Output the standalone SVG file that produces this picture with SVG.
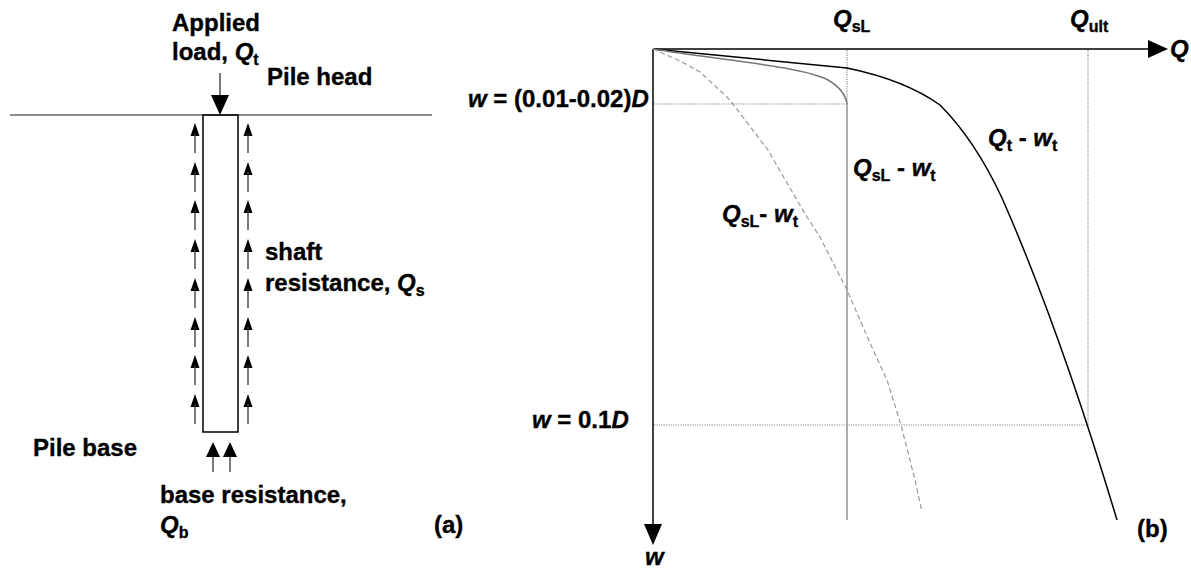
<svg xmlns="http://www.w3.org/2000/svg" width="1191" height="570" viewBox="0 0 1191 570">
<style>
text{font-family:"Liberation Sans",Arial,sans-serif;font-weight:bold;font-size:24px;fill:#000;stroke:#000;stroke-width:0.35}
.it{font-style:italic}
.sub{font-size:16px;font-style:normal}
.ax{stroke:#000;stroke-width:1.5;fill:none}
.dot{stroke:#888;stroke-width:1.2;stroke-dasharray:1.2 1.2;fill:none}
.sa{stroke:#333;stroke-width:1.3}
.hd{fill:#000}
</style>
<defs>
<g id="sarrow"><path class="hd" d="M0,0 L4.5,13 L-4.5,13 Z"/><line class="sa" x1="0" y1="10" x2="0" y2="30"/></g>
</defs>
<rect width="1191" height="570" fill="#fff"/>
<g id="ground"><line x1="10" y1="115" x2="432" y2="115" stroke="#666" stroke-width="1.5"/></g>
<g id="pile"><rect x="203" y="115" width="35" height="317" fill="none" stroke="#000" stroke-width="1.5"/></g>
<g id="connectors">
<line class="sa" x1="220" y1="73" x2="220" y2="96"/>
<path class="hd" d="M211,95 L229,95 L220,115 Z"/>
<use href="#sarrow" x="195" y="123"/><use href="#sarrow" x="195" y="162"/><use href="#sarrow" x="195" y="200"/><use href="#sarrow" x="195" y="239"/><use href="#sarrow" x="195" y="278"/><use href="#sarrow" x="195" y="317"/><use href="#sarrow" x="195" y="355"/><use href="#sarrow" x="195" y="394"/>
<use href="#sarrow" x="248" y="123"/><use href="#sarrow" x="248" y="162"/><use href="#sarrow" x="248" y="200"/><use href="#sarrow" x="248" y="239"/><use href="#sarrow" x="248" y="278"/><use href="#sarrow" x="248" y="317"/><use href="#sarrow" x="248" y="355"/><use href="#sarrow" x="248" y="394"/>
<line class="sa" x1="213" y1="455" x2="213" y2="472"/><path class="hd" d="M213,442 L220,457 L206,457 Z"/>
<line class="sa" x1="230" y1="455" x2="230" y2="472"/><path class="hd" d="M230,442 L237,457 L223,457 Z"/>
</g>
<g id="labels-a">
<text x="172" y="31">Applied</text>
<text x="172" y="60">load, <tspan class="it">Q</tspan><tspan class="sub" dy="5">t</tspan></text>
<text x="267" y="85">Pile head</text>
<text x="265" y="260">shaft</text>
<text x="265" y="291">resistance, <tspan class="it">Q</tspan><tspan class="sub" dy="5">s</tspan></text>
<text x="33" y="456">Pile base</text>
<text x="160" y="503">base resistance,</text>
<text x="160" y="533"><tspan class="it">Q</tspan><tspan class="sub" dy="5">b</tspan></text>
<text x="434" y="533">(a)</text>
</g>
<g id="axes">
<line class="ax" x1="653" y1="49" x2="1150" y2="49"/>
<path class="hd" d="M1148,40 L1168,49 L1148,58 Z"/>
<line class="ax" x1="653" y1="49" x2="653" y2="526"/>
<path class="hd" d="M644,524 L662,524 L653,545 Z"/>
</g>
<g id="guides">
<line class="dot" x1="654" y1="104" x2="847" y2="104"/>
<line class="dot" x1="847" y1="50" x2="847" y2="104"/>
<line x1="847" y1="104" x2="847" y2="520" stroke="#777" stroke-width="1.2"/>
<line class="dot" x1="1088" y1="50" x2="1088" y2="425"/>
<line class="dot" x1="654" y1="425" x2="1089" y2="425"/>
</g>
<g id="curves">
<path d="M653,49 L847,68 Q905,80 940,105 Q975,140 1002,198 Q1060,330 1117,520" fill="none" stroke="#000" stroke-width="1.5"/>
<path d="M653,49 C720,60 800,66 828,80 Q845,90 847,104" fill="none" stroke="#777" stroke-width="1.5"/>
<polyline points="653,49 680,61 700,72 727,97 733,104 768,150 787,183 807,217 820,237 847,290 870,343 887,380 901,425 915,480 922,512" fill="none" stroke="#999" stroke-width="1.2" stroke-dasharray="5 3"/>
</g>
<g id="labels-b">
<text x="833" y="27"><tspan class="it">Q</tspan><tspan class="sub" dy="5">sL</tspan></text>
<text x="1070" y="27"><tspan class="it">Q</tspan><tspan class="sub" dy="5">ult</tspan></text>
<text x="1170" y="57" class="it">Q</text>
<text x="468" y="107"><tspan class="it">w</tspan> = (0.01-0.02)<tspan class="it">D</tspan></text>
<text x="532" y="428"><tspan class="it">w</tspan> = 0.1<tspan class="it">D</tspan></text>
<text x="645" y="565" class="it">w</text>
<text x="988" y="146"><tspan class="it">Q</tspan><tspan class="sub" dy="5">t</tspan><tspan dy="-5"> - </tspan><tspan class="it">w</tspan><tspan class="sub" dy="5">t</tspan></text>
<text x="853" y="176"><tspan class="it">Q</tspan><tspan class="sub" dy="5">sL</tspan><tspan dy="-5"> - </tspan><tspan class="it">w</tspan><tspan class="sub" dy="5">t</tspan></text>
<text x="722" y="222"><tspan class="it">Q</tspan><tspan class="sub" dy="5">sL</tspan><tspan dy="-5">- </tspan><tspan class="it">w</tspan><tspan class="sub" dy="5">t</tspan></text>
<text x="1137" y="537">(b)</text>
</g>
</svg>
